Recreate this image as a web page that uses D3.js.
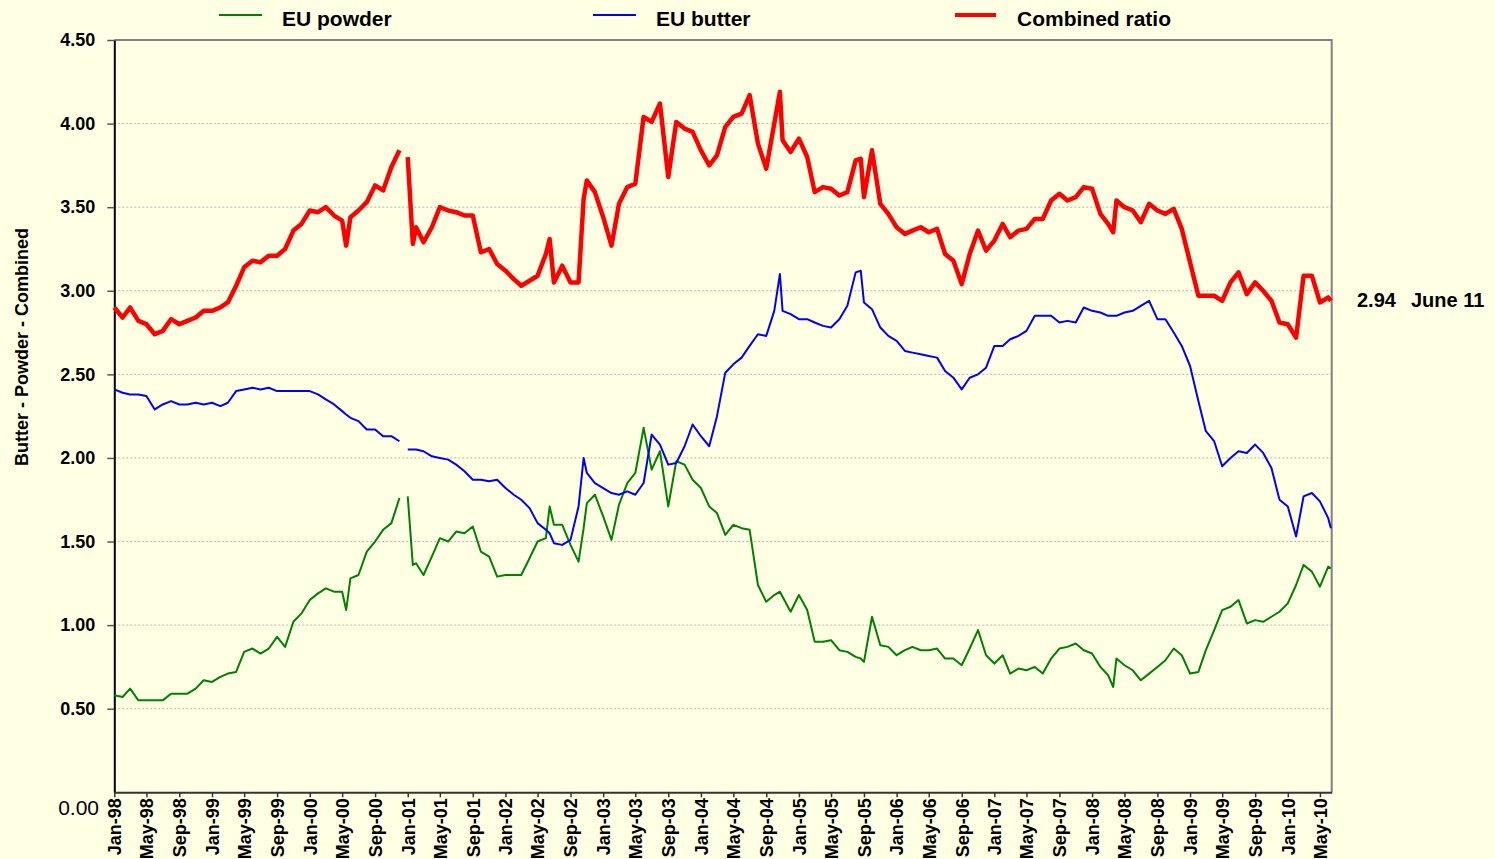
<!DOCTYPE html>
<html>
<head>
<meta charset="utf-8">
<script src="https://cdn.jsdelivr.net/npm/d3@7"></script>
<style>
  body { margin: 0; background: #ffffe4; }
  svg { display: block; font-family: Arial, "Liberation Sans", sans-serif; }
</style>
</head>
<body>
<div id="graph"></div>
<script>
// weekly prices, kept monthly (plus a few spikes / the gap at Jan-01)
let dates = [
  "1998-01-01","1998-02-01","1998-03-01","1998-04-01","1998-05-01","1998-06-01","1998-07-01","1998-08-01","1998-09-01","1998-10-01","1998-11-01","1998-12-01",
  "1999-01-01","1999-02-01","1999-03-01","1999-04-01","1999-05-01","1999-06-01","1999-07-01","1999-08-01","1999-09-01","1999-10-01","1999-11-01","1999-12-01",
  "2000-01-01","2000-02-01","2000-03-01","2000-04-01","2000-05-01","2000-05-16","2000-06-01","2000-07-01","2000-08-01","2000-09-01","2000-10-01","2000-11-01","2000-12-01","2000-12-20",
  "2001-01-01","2001-01-20","2001-02-01","2001-03-01","2001-04-01","2001-05-01","2001-06-01","2001-07-01","2001-08-01","2001-09-01","2001-10-01","2001-11-01","2001-12-01",
  "2002-01-01","2002-02-01","2002-03-01","2002-04-01","2002-05-01","2002-06-01","2002-06-15","2002-07-01","2002-08-01","2002-09-01","2002-10-01","2002-10-20","2002-11-01","2002-12-01",
  "2003-01-01","2003-02-01","2003-03-01","2003-04-01","2003-05-01","2003-06-01","2003-07-01","2003-08-01","2003-09-01","2003-10-01","2003-11-01","2003-12-01",
  "2004-01-01","2004-02-01","2004-03-01","2004-04-01","2004-05-01","2004-06-01","2004-07-01","2004-08-01","2004-09-01","2004-10-01","2004-10-22","2004-11-01","2004-12-01",
  "2005-01-01","2005-02-01","2005-03-01","2005-04-01","2005-05-01","2005-06-01","2005-07-01","2005-08-01","2005-08-20","2005-09-01","2005-10-01","2005-11-01","2005-12-01",
  "2006-01-01","2006-02-01","2006-03-01","2006-04-01","2006-05-01","2006-06-01","2006-07-01","2006-08-01","2006-09-01","2006-10-01","2006-11-01","2006-12-01",
  "2007-01-01","2007-02-01","2007-03-01","2007-04-01","2007-05-01","2007-06-01","2007-07-01","2007-08-01","2007-09-01","2007-10-01","2007-11-01","2007-12-01",
  "2008-01-01","2008-02-01","2008-03-01","2008-03-20","2008-04-01","2008-05-01","2008-06-01","2008-07-01","2008-08-01","2008-09-01","2008-10-01","2008-11-01","2008-12-01",
  "2009-01-01","2009-02-01","2009-03-01","2009-04-01","2009-05-01","2009-06-01","2009-07-01","2009-08-01","2009-09-01","2009-10-01","2009-11-01","2009-12-01",
  "2010-01-01","2010-02-01","2010-03-01","2010-04-01","2010-05-01","2010-06-01","2010-06-11"
];

let powder = [
  0.58,0.57,0.62,0.55,0.55,0.55,0.55,0.59,0.59,0.59,0.62,0.67,
  0.66,0.69,0.71,0.72,0.84,0.86,0.83,0.86,0.93,0.87,1.02,1.07,
  1.15,1.19,1.22,1.20,1.20,1.09,1.28,1.30,1.44,1.50,1.57,1.61,1.76,null,
  1.77,1.36,1.37,1.30,1.41,1.52,1.50,1.56,1.55,1.59,1.44,1.41,1.29,
  1.30,1.30,1.30,1.40,1.50,1.52,1.71,1.60,1.60,1.48,1.38,1.58,1.73,1.78,
  1.65,1.51,1.72,1.85,1.91,2.18,1.93,2.04,1.71,1.98,1.96,1.87,
  1.82,1.71,1.67,1.54,1.60,1.58,1.57,1.24,1.14,1.18,1.20,1.17,1.08,
  1.18,1.09,0.90,0.90,0.91,0.85,0.84,0.81,0.80,0.78,1.05,0.88,0.87,
  0.82,0.85,0.87,0.85,0.85,0.86,0.80,0.80,0.76,0.86,0.97,0.82,
  0.77,0.82,0.71,0.74,0.73,0.75,0.71,0.80,0.86,0.87,0.89,0.85,
  0.83,0.75,0.70,0.63,0.80,0.76,0.73,0.67,0.71,0.75,0.79,0.86,0.82,
  0.71,0.72,0.85,0.97,1.09,1.11,1.15,1.01,1.03,1.02,1.05,1.08,
  1.13,1.24,1.36,1.32,1.23,1.35,1.34
];

let butter = [
  2.41,2.39,2.38,2.38,2.37,2.29,2.32,2.34,2.32,2.32,2.33,2.32,
  2.33,2.31,2.33,2.40,2.41,2.42,2.41,2.42,2.40,2.40,2.40,2.40,
  2.40,2.38,2.35,2.32,2.28,2.26,2.24,2.22,2.17,2.17,2.13,2.13,2.10,null,
  2.05,2.05,2.05,2.04,2.01,2.00,1.99,1.96,1.92,1.87,1.87,1.86,1.87,
  1.82,1.78,1.75,1.70,1.61,1.57,1.55,1.49,1.48,1.51,1.71,2.00,1.91,1.85,
  1.82,1.79,1.78,1.80,1.78,1.85,2.14,2.08,1.96,1.97,2.07,2.20,
  2.13,2.07,2.25,2.51,2.56,2.60,2.67,2.74,2.73,2.88,3.10,2.88,2.86,
  2.83,2.83,2.81,2.79,2.78,2.83,2.91,3.11,3.12,2.93,2.89,2.78,2.73,
  2.70,2.64,2.63,2.62,2.61,2.60,2.52,2.48,2.41,2.48,2.50,2.54,
  2.67,2.67,2.71,2.73,2.76,2.85,2.85,2.85,2.81,2.82,2.81,2.90,
  2.88,2.87,2.85,2.85,2.85,2.87,2.88,2.91,2.94,2.83,2.83,2.75,2.67,
  2.55,2.34,2.16,2.10,1.95,2.00,2.04,2.03,2.08,2.03,1.94,1.75,
  1.71,1.53,1.77,1.79,1.74,1.64,1.58
];

let combined = [
  2.90,2.84,2.90,2.82,2.80,2.74,2.76,2.83,2.80,2.82,2.84,2.88,
  2.88,2.90,2.93,3.03,3.14,3.18,3.17,3.21,3.21,3.25,3.36,3.40,
  3.48,3.47,3.50,3.45,3.42,3.27,3.44,3.48,3.53,3.63,3.60,3.74,3.84,null,
  3.80,3.28,3.38,3.29,3.38,3.50,3.48,3.47,3.45,3.45,3.23,3.25,3.16,
  3.12,3.07,3.03,3.06,3.09,3.22,3.31,3.05,3.15,3.05,3.05,3.55,3.66,3.59,
  3.44,3.27,3.52,3.62,3.64,4.04,4.01,4.12,3.68,4.01,3.97,3.95,
  3.84,3.75,3.81,3.98,4.04,4.06,4.17,3.88,3.73,4.00,4.19,3.90,3.83,
  3.91,3.80,3.59,3.62,3.61,3.57,3.59,3.78,3.79,3.56,3.84,3.52,3.46,
  3.38,3.34,3.36,3.38,3.35,3.37,3.22,3.18,3.04,3.22,3.36,3.24,
  3.30,3.40,3.32,3.36,3.37,3.43,3.43,3.54,3.58,3.54,3.56,3.62,
  3.61,3.46,3.40,3.35,3.54,3.50,3.48,3.41,3.52,3.48,3.46,3.49,3.37,
  3.17,2.97,2.97,2.97,2.94,3.05,3.11,2.98,3.05,3.00,2.94,2.81,
  2.80,2.72,3.09,3.09,2.93,2.96,2.94
];

let seriesNames = ["EU powder", "EU butter", "Combined ratio"];
let yTicks = [0.5, 1.0, 1.5, 2.0, 2.5, 3.0, 3.5, 4.0, 4.5];
let lastLabel = ["2.94", "June 11"];

let W = 1495, H = 859;
let plot = { left: 114.3, right: 1331.7, top: 40, bottom: 792.3 };

let parse = d3.timeParse("%Y-%m-%d");
let dt = dates.map(parse);

let svg = d3.select("#graph").append("svg").attr("width", W).attr("height", H);
svg.append("rect").attr("width", W).attr("height", H).attr("fill", "#ffffe4");

let x = d3.scaleTime()
  .domain([parse("1998-01-01"), parse("2010-06-14")])
  .range([plot.left, plot.right]);
let y = d3.scaleLinear().domain([0, 4.5]).range([plot.bottom, plot.top]);

//dotted gridlines
svg.append("g").selectAll("line")
  .data(yTicks.filter((d) => d < 4.5))
  .enter().append("line")
  .attr("x1", plot.left).attr("x2", plot.right)
  .attr("y1", (d) => y(d)).attr("y2", (d) => y(d))
  .attr("stroke", "#b4b4b4").attr("stroke-width", 1)
  .attr("stroke-dasharray", "2,2");

//frame top + right in grey
svg.append("path")
  .attr("d", "M" + plot.left + "," + y(4.5) + "H" + plot.right + "V" + plot.bottom)
  .attr("fill", "none").attr("stroke", "#808080").attr("stroke-width", 2);

// y axis
let yAxis = svg.append("g")
  .attr("transform", "translate(" + plot.left + ",0)")
  .call(d3.axisLeft(y).tickValues(yTicks).tickFormat(d3.format(".2f")).tickSize(7).tickPadding(12).tickSizeOuter(0));
yAxis.select(".domain").attr("stroke", "#000").attr("stroke-width", 2);
yAxis.selectAll(".tick line").attr("stroke", "#555").attr("stroke-width", 1.5);
yAxis.selectAll("text").style("font-size", "18px").style("font-weight", "bold").attr("fill", "#000");

svg.append("text")
  .attr("x", 99).attr("y", 815)
  .attr("text-anchor", "end")
  .style("font-size", "21px")
  .text("0.00");

// x axis
let xAxis = svg.append("g")
  .attr("transform", "translate(0," + plot.bottom + ")")
  .call(d3.axisBottom(x).ticks(d3.timeMonth.every(4)).tickFormat(d3.timeFormat("%b-%y")).tickSize(5).tickSizeOuter(0));
xAxis.select(".domain").attr("stroke", "#333").attr("stroke-width", 2);
xAxis.selectAll(".tick line").attr("stroke", "#333").attr("stroke-width", 1.5);
xAxis.selectAll("text")
  .style("font-size", "18px").style("font-weight", "bold").attr("fill", "#000")
  .attr("text-anchor", "end")
  .attr("transform", "rotate(-90)")
  .attr("x", -6).attr("y", 0).attr("dy", "0.35em");

// y title
svg.append("text")
  .attr("transform", "translate(28,347) rotate(-90)")
  .attr("text-anchor", "middle")
  .style("font-size", "18px").style("font-weight", "bold")
  .text("Butter - Powder - Combined");

// lines
function drawLine(values, color, width) {
  let line = d3.line()
    .defined((d) => d[1] !== null)
    .x((d) => x(d[0]))
    .y((d) => y(d[1]));
  svg.append("path")
    .datum(dt.map((d, i) => [d, values[i]]))
    .attr("d", line)
    .attr("fill", "none")
    .attr("stroke", color)
    .attr("stroke-width", width)
    .attr("stroke-linejoin", "round");
}
drawLine(powder, "#008000", 2);
drawLine(butter, "#0000ff", 2);
drawLine(combined, "#ff0000", 4.5);

// legend
let legend = [
  { name: seriesNames[0], color: "#008000", w: 2, x1: 219, x2: 262, tx: 282 },
  { name: seriesNames[1], color: "#0000ff", w: 2, x1: 593, x2: 636, tx: 656 },
  { name: seriesNames[2], color: "#ff0000", w: 4, x1: 955, x2: 996, tx: 1017 },
];
legend.forEach((l) => {
  svg.append("line")
    .attr("x1", l.x1).attr("x2", l.x2).attr("y1", 15).attr("y2", 15)
    .attr("stroke", l.color).attr("stroke-width", l.w);
  svg.append("text")
    .attr("x", l.tx).attr("y", 26)
    .style("font-size", "21px").style("font-weight", "bold")
    .text(l.name);
});

// last value note
svg.append("text").attr("x", 1357).attr("y", 307)
  .style("font-size", "20px").style("font-weight", "bold").text(lastLabel[0]);
svg.append("text").attr("x", 1411).attr("y", 307)
  .style("font-size", "20px").style("font-weight", "bold").text(lastLabel[1]);
</script>
</body>
</html>
